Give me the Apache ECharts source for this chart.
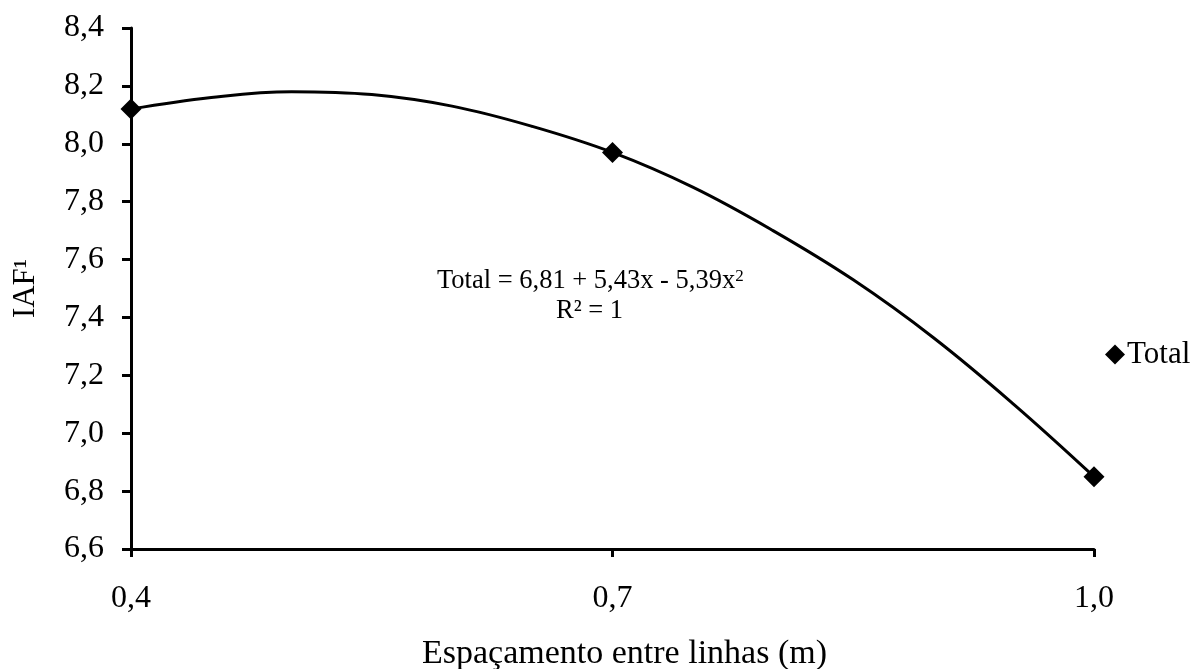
<!DOCTYPE html>
<html>
<head>
<meta charset="utf-8">
<script src="https://cdn.jsdelivr.net/npm/echarts@6/dist/echarts.min.js"></script>
<style>html,body{margin:0;padding:0;background:#fff}#c{width:1195px;height:669px}</style>
</head>
<body>
<div id="c"></div>
<script>
// Observed data points
var pointX = [0.4, 0.7, 1.0];
var pointY = [8.12, 7.97, 6.85];
// Trend curve
var curveX = [0.40, 0.45, 0.50, 0.55, 0.60, 0.65, 0.70, 0.75, 0.80, 0.85, 0.90, 0.95, 1.00];
var curveY = [8.12, 8.16, 8.18, 8.17, 8.13, 8.06, 7.97, 7.85, 7.70, 7.53, 7.33, 7.10, 6.85];
var xTicks = [0.4, 0.7, 1.0];
var seriesName = 'Total';
var equationMain = 'Total = 6,81 + 5,43x - 5,39x';
var equationSup = '2';
var r2Text = 'R² = 1';
var xTitle = 'Espaçamento entre linhas (m)';
var yTitle = 'IAF¹';

var FONT = '"Liberation Serif", "Times New Roman", serif';
function fmt(v){ return v.toFixed(1).replace('.', ','); }

var chart = echarts.init(document.getElementById('c'), null, {renderer:'canvas'});
chart.setOption({
  animation: false,
  backgroundColor: '#fff',
  textStyle: {fontFamily: FONT, color: '#000'},
  grid: {left: 131, right: 101, top: 28, bottom: 120, containLabel: false, outerBoundsMode: 'none'},
  legend: {
    data: [{name: seriesName, icon: 'diamond', itemStyle: {color: '#000', opacity: 1}}],
    left: 1100, top: 334,
    itemWidth: 20, itemHeight: 20, itemGap: 4,
    textStyle: {fontFamily: FONT, fontSize: 31, color: '#000', padding: [0,0,0,-3]}
  },
  xAxis: {
    type: 'value', min: 0.4, max: 1.0,
    name: xTitle, nameLocation: 'middle', nameGap: 88,
    nameTextStyle: {fontFamily: FONT, fontSize: 34, color: '#000', padding: [0,0,0,24]},
    axisLine: {show: true, lineStyle: {color: '#000', width: 3}},
    axisTick: {show: true, length: 8, lineStyle: {color: '#000', width: 3}, customValues: xTicks},
    axisLabel: {fontFamily: FONT, fontSize: 32, color: '#000', margin: 34, customValues: xTicks, formatter: fmt},
    splitLine: {show: false}
  },
  yAxis: {
    type: 'value', min: 6.6, max: 8.4, interval: 0.2,
    name: yTitle, nameLocation: 'middle', nameGap: 90, nameRotate: 90,
    nameTextStyle: {fontFamily: FONT, fontSize: 31, color: '#000'},
    axisLine: {show: true, lineStyle: {color: '#000', width: 3}},
    axisTick: {show: true, length: 9, lineStyle: {color: '#000', width: 3}},
    axisLabel: {fontFamily: FONT, fontSize: 32, color: '#000', margin: 27, formatter: fmt},
    splitLine: {show: false}
  },
  graphic: [
    {type: 'text', left: 437, top: 268, style: {
      text: '{m|' + equationMain + '}{s|' + equationSup + '}',
      rich: {
        m: {fontFamily: FONT, fontSize: 26.5, fill: '#000', color: '#000'},
        s: {fontFamily: FONT, fontSize: 17, fill: '#000', color: '#000', verticalAlign: 'top', padding: [0,0,10,0]}
      }
    }},
    {type: 'text', left: 556, top: 298, style: {text: r2Text, font: '26.5px ' + FONT, fill: '#000'}}
  ],
  series: [
    {
      name: 'trend', type: 'line', smooth: 0.4, showSymbol: false, silent: true,
      data: curveX.map(function(x,i){return [x, curveY[i]];}),
      lineStyle: {color: '#000', width: 3}, z: 2
    },
    {
      name: seriesName, type: 'scatter', symbol: 'diamond', symbolSize: 21,
      data: pointX.map(function(x,i){return [x, pointY[i]];}),
      itemStyle: {color: '#000', opacity: 1}, z: 3
    }
  ]
});
</script>
</body>
</html>
